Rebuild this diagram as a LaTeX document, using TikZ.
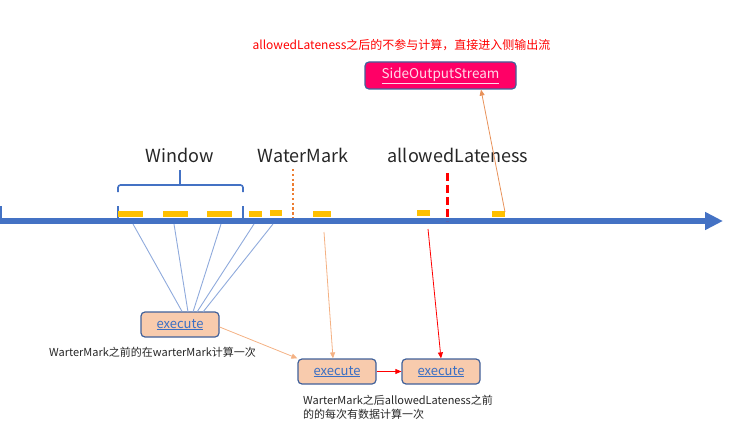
\documentclass[tikz,border=0pt]{standalone}
\usepackage{fontspec}
\setmainfont{Noto Sans CJK SC}
\usetikzlibrary{arrows.meta}
\definecolor{tl}{HTML}{4472C4}
\definecolor{barc}{HTML}{FFC000}
\definecolor{peach}{HTML}{F8CBAD}
\definecolor{bord}{HTML}{41619A}
\definecolor{lineblue}{HTML}{8FAADC}
\definecolor{lorange}{HTML}{F4B183}
\definecolor{dorange}{HTML}{E8925A}
\definecolor{pinkbox}{HTML}{FF0066}
\definecolor{linktxt}{HTML}{3A6FC4}
\definecolor{txt}{HTML}{262626}
\definecolor{wm}{HTML}{ED7D31}
\tikzset{
  ybar/.style={fill=barc, draw=none, minimum width=#1, minimum height=6pt, inner sep=0pt},
  exbox/.style={draw=bord, line width=1.2pt, fill=peach, rounded corners=4pt, minimum width=78pt, minimum height=25pt, inner sep=0pt, text height=9.5pt, text depth=2.5pt, font=\fontsize{13}{15}\selectfont, text=linktxt},
  biglabel/.style={font=\fontsize{18}{20}\selectfont, text=txt, inner sep=0pt},
  note/.style={font=\fontsize{11}{14}\selectfont, text=txt, inner sep=0pt, align=left},
  winline/.style={lineblue, line width=0.9pt},
  thinarrow/.style={line width=0.8pt, -{Triangle[length=6pt,width=5pt]}},
}
\newcommand{\ul}[1]{\underline{#1}}
\begin{document}
\begin{tikzpicture}[x=1pt,y=-1pt]
\useasboundingbox (0,0) rectangle (749,441);

% timeline
\coordinate (tstart) at (0,221);
\coordinate (tend) at (723,221);
\draw[tl, line width=6pt, -{Triangle[length=18pt,width=17pt]}] (tstart) -- (tend);
\draw[tl, line width=1.6pt] (0.8,206) -- (0.8,221);

% window boundaries
\draw[tl, line width=1.6pt] (118,206) -- (118,218);
\draw[tl, line width=1.6pt] (243,206) -- (243,218);

% brace
\draw[tl, line width=1.6pt, rounded corners=2.5pt] (118,192) -- (118,185) -- (243,185) -- (243,192);
\draw[tl, line width=1.6pt] (180,185) -- (180,170);

% bars
\node[ybar=25pt] (b1) at (130.5,214) {};
\node[ybar=25pt] (b2) at (175.5,214) {};
\node[ybar=25pt] (b3) at (219.5,214) {};
\node[ybar=13pt] (b4) at (255.5,214) {};
\node[ybar=12pt] (b5) at (276,213) {};
\node[ybar=18pt] (b6) at (322,214) {};
\node[ybar=13pt] (b7) at (423.5,213) {};
\node[ybar=13pt] (b8) at (498.5,214) {};

% watermark dotted
\coordinate (wmtop) at (293,169);
\coordinate (wmbot) at (293,218);
\draw[wm, line width=2.4pt, dash pattern=on 2.4pt off 2.4pt] (wmtop) -- (wmbot);

% allowed lateness dashed
\coordinate (altop) at (447,173);
\coordinate (albot) at (447,221);
\draw[red, line width=3pt, dash pattern=on 8pt off 4pt] (altop) -- (albot);

% labels
\node[biglabel] (lwin) at (180,155) {Window};
\node[biglabel] (lwm) at (303,155) {WaterMark};
\node[biglabel] (lal) at (458,155) {allowedLateness};

% red title
\node[font=\fontsize{12}{14}\selectfont, text=red, inner sep=0pt] (title) at (401.5,45) {allowedLateness之后的不参与计算，直接进入侧输出流};

% side output box
\node[draw=bord, line width=1.2pt, fill=pinkbox, rounded corners=4pt, minimum width=151pt, minimum height=27pt, inner sep=0pt, text height=10pt, text depth=3pt, font=\fontsize{13.5}{15}\selectfont, text=white!85!pinkbox] (side) at (440.5,75.5) {\ul{SideOutputStream}};

% execute boxes
\node[exbox] (e1) at (180,324.5) {\ul{execute}};
\node[exbox] (e2) at (337,371.5) {\ul{execute}};
\node[exbox] (e3) at (441,371.5) {\ul{execute}};

% notes
\node[note, anchor=west] (n1) at (49,352) {WarterMark之前的在warterMark计算一次};
\node[note, anchor=north west] (n2) at (303,395) {WarterMark之后allowedLateness之前\\的的每次有数据计算一次};

% window lines
\coordinate (w1) at (133,224);
\coordinate (w2) at (174,224);
\coordinate (w3) at (221,224);
\coordinate (w4) at (254,224);
\coordinate (w5) at (273,224);
\draw[winline] (w1) -- (e1.north -| 182,0);
\draw[winline] (w2) -- (188,312);
\draw[winline] (w3) -- (193,312);
\draw[winline] (w4) -- (197,312);
\draw[winline] (w5) -- (203,312);

% arrows
\coordinate (s8) at (505,212);
\draw[dorange, thinarrow] (s8) -- (side.south -| 481,0);
\draw[lorange, thinarrow] (e1.east |- 0,327) -- (e2.north west);
\coordinate (s6) at (324,232);
\draw[lorange, thinarrow] (s6) -- (e2.north -| 333,0);
\coordinate (s7) at (428,229);
\draw[red, thinarrow] (s7) -- (e3.north);
\draw[red, thinarrow] (e2.east) -- (e3.west);
\end{tikzpicture}
\end{document}
